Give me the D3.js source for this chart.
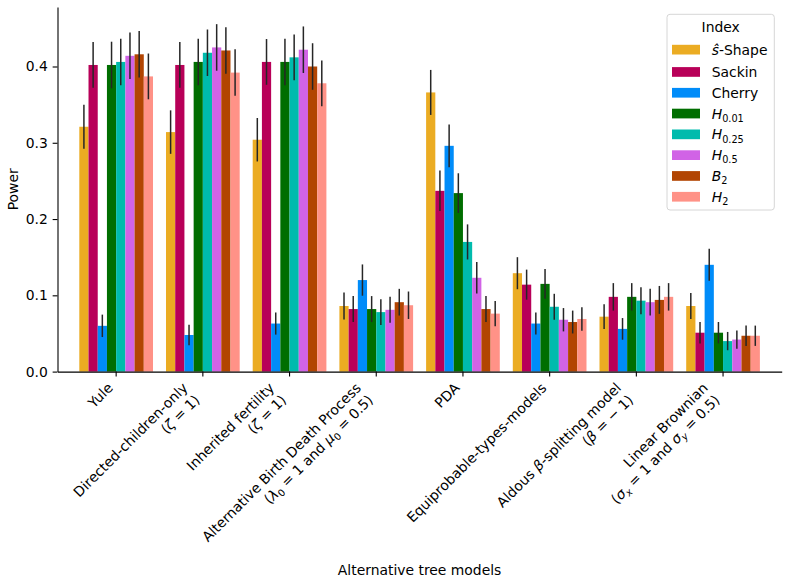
<!DOCTYPE html>
<html lang="en">
<head>
<meta charset="UTF-8">
<title>Power by alternative tree model</title>
<script src="https://d3js.org/d3.v7.min.js"></script>
<style>
    body { margin: 0; background: #fff; }
    svg { display: block; font-family: "DejaVu Sans", sans-serif; }
    .axis text { font-size: 13.9px; fill: #000; font-family: "DejaVu Sans", sans-serif; }
    .axis path, .axis line { stroke: #000; stroke-width: 1.1px; }
</style>
</head>
<body>
<svg id="chart" width="789" height="582"></svg>
<script>
// categories (tiny markup: *x* = italic, _{x} = subscript, \n = new line)
const categories = [
    "Yule",
    "Directed-children-only\n(*ζ* = 1)",
    "Inherited fertility\n(*ζ* = 1)",
    "Alternative Birth Death Process\n(*λ*_{0} = 1 and *μ*_{0} = 0.5)",
    "PDA",
    "Equiprobable-types-models",
    "Aldous *β*-splitting model\n(*β* = − 1)",
    "Linear Brownian\n(*σ*_{*x*} = 1 and *σ*_{*y*} = 0.5)"
];

const seriesNames = ["*ŝ*-Shape", "Sackin", "Cherry", "*H*_{0.01}", "*H*_{0.25}", "*H*_{0.5}", "*B*_{2}", "*H*_{2}"];

// power per category, one array per index
const shapeVals  = [0.321, 0.314, 0.304, 0.086, 0.366, 0.129, 0.072, 0.086];
const sackinVals = [0.402, 0.402, 0.406, 0.082, 0.237, 0.114, 0.098, 0.051];
const cherryVals = [0.060, 0.048, 0.063, 0.120, 0.296, 0.063, 0.056, 0.140];
const h001Vals   = [0.402, 0.406, 0.406, 0.082, 0.234, 0.115, 0.098, 0.051];
const h025Vals   = [0.406, 0.418, 0.412, 0.078, 0.170, 0.085, 0.093, 0.040];
const h05Vals    = [0.414, 0.425, 0.422, 0.081, 0.123, 0.068, 0.091, 0.042];
const b2Vals     = [0.416, 0.421, 0.400, 0.091, 0.082, 0.065, 0.094, 0.047];
const h2Vals     = [0.387, 0.392, 0.378, 0.087, 0.076, 0.069, 0.098, 0.047];

// half width of the error bars
const shapeErr  = [0.029, 0.0285, 0.0285, 0.0177, 0.0295, 0.021, 0.0162, 0.017];
const sackinErr = [0.030, 0.030, 0.030, 0.017, 0.0265, 0.0197, 0.018, 0.014];
const cherryErr = [0.0147, 0.0135, 0.0145, 0.0205, 0.028, 0.0145, 0.0142, 0.021];
const h001Err   = [0.0305, 0.0305, 0.0305, 0.017, 0.026, 0.0195, 0.018, 0.014];
const h025Err   = [0.0305, 0.0305, 0.030, 0.017, 0.023, 0.017, 0.0177, 0.012];
const h05Err    = [0.0305, 0.0305, 0.0305, 0.017, 0.0207, 0.0153, 0.0175, 0.012];
const b2Err     = [0.0305, 0.0305, 0.0305, 0.0175, 0.017, 0.015, 0.0183, 0.0133];
const h2Err     = [0.030, 0.0305, 0.030, 0.018, 0.0164, 0.0155, 0.018, 0.0133];

const yTicks = [0.0, 0.1, 0.2, 0.3, 0.4];

const palette = ["#EBAC23", "#B80058", "#008CF9", "#006E00", "#00BBAD", "#D163E6", "#B24502", "#FF9287"];

const allVals = [shapeVals, sackinVals, cherryVals, h001Vals, h025Vals, h05Vals, b2Vals, h2Vals];
const allErr = [shapeErr, sackinErr, cherryErr, h001Err, h025Err, h05Err, b2Err, h2Err];

// build rows for drawing
const rows = [];
categories.forEach((c, ci) => {
    seriesNames.forEach((s, si) => {
        rows.push({ cat: c, series: s, si: si, value: allVals[si][ci], err: allErr[si][ci] });
    });
});

const fs = 13.9;
const margin = { left: 57.5, right: 7.3, top: 7, bottom: 210.4 };
const width = 789, height = 582;
const svg = d3.select("#chart");

const x0 = d3.scaleBand()
    .domain(categories)
    .range([margin.left, width - margin.right])
    .paddingInner(0.15)
    .paddingOuter(0.2515);

const x1 = d3.scaleBand()
    .domain(seriesNames)
    .range([0, x0.bandwidth()]);

const y = d3.scaleLinear()
    .domain([0, 0.478])
    .range([height - margin.bottom, margin.top]);

// writes a marked-up line into a text/tspan node
function addRich(parent, str) {
    const parts = str.split(/(\*[^*]+\*|_\{[^}]+\})/).filter(p => p.length);
    let shifted = 0;
    parts.forEach(p => {
        if (p.startsWith("_{")) {
            const inner = p.slice(2, -1);
            const sub = parent.append("tspan")
                .attr("dy", 3.2)
                .style("font-size", (fs * 0.7) + "px");
            if (inner.startsWith("*")) sub.style("font-style", "italic").text(inner.slice(1, -1));
            else sub.text(inner);
            shifted = 3.2;
        } else {
            const t = parent.append("tspan");
            if (shifted) { t.attr("dy", -shifted); shifted = 0; }
            if (p.startsWith("*")) t.style("font-style", "italic").text(p.slice(1, -1));
            else t.text(p);
        }
    });
}

// bars
const groups = svg.append("g")
    .selectAll("g")
    .data(categories)
    .join("g")
    .attr("transform", d => `translate(${x0(d)},0)`);

groups.selectAll("rect")
    .data(c => rows.filter(r => r.cat === c))
    .join("rect")
    .attr("x", d => x1(d.series))
    .attr("y", d => y(d.value))
    .attr("width", x1.bandwidth())
    .attr("height", d => y(0) - y(d.value))
    .attr("fill", d => palette[d.si]);

groups.selectAll("line")
    .data(c => rows.filter(r => r.cat === c))
    .join("line")
    .attr("x1", d => x1(d.series) + x1.bandwidth() / 2)
    .attr("x2", d => x1(d.series) + x1.bandwidth() / 2)
    .attr("y1", d => y(d.value - d.err))
    .attr("y2", d => y(d.value + d.err))
    .attr("stroke", "#262626")
    .attr("stroke-width", 1.5);

// y axis
svg.append("g")
    .attr("class", "axis")
    .attr("transform", `translate(${margin.left},0)`)
    .call(d3.axisLeft(y).tickValues(yTicks).tickFormat(d3.format(".1f"))
        .tickSize(4.86).tickSizeOuter(0).tickPadding(4.86));

// x axis
const xAxis = svg.append("g")
    .attr("class", "axis")
    .attr("transform", `translate(0,${y(0)})`)
    .call(d3.axisBottom(x0).tickFormat(() => "").tickSize(4.86).tickSizeOuter(0));

// rotated tick labels, anchored like matplotlib (rotation 45, ha right)
const lineH = 17;
const asc = 0.76 * fs, desc = 0.24 * fs;
const k = Math.SQRT1_2;
categories.forEach(c => {
    const lines = c.split("\n");
    const cx = x0(c) + x0.bandwidth() / 2;
    const px = cx - k * ((lines.length - 1) * lineH + desc);
    const py = y(0) + 9.72 + k * asc;
    const t = svg.append("text")
        .attr("transform", `translate(${px},${py}) rotate(-45)`)
        .attr("text-anchor", "end")
        .style("font-size", fs + "px");
    lines.forEach((ln, i) => {
        const tl = t.append("tspan").attr("x", 0).attr("y", i * lineH);
        addRich(tl, ln);
    });
});

// axis titles
svg.append("text")
    .attr("x", (margin.left + width - margin.right) / 2)
    .attr("y", 574.5)
    .attr("text-anchor", "middle")
    .style("font-size", fs + "px")
    .text("Alternative tree models");

svg.append("text")
    .attr("transform", `translate(17.5,${(margin.top + y(0)) / 2}) rotate(-90)`)
    .attr("text-anchor", "middle")
    .style("font-size", fs + "px")
    .text("Power");

// legend
const legend = svg.append("g");
legend.append("rect")
    .attr("x", 667).attr("y", 14.3)
    .attr("width", 107.3).attr("height", 195.7)
    .attr("rx", 3)
    .attr("fill", "#fff").attr("fill-opacity", 0.8)
    .attr("stroke", "#d6d6d6").attr("stroke-width", 1);

legend.append("text")
    .attr("x", 720.7).attr("y", 31.7)
    .attr("text-anchor", "middle")
    .style("font-size", fs + "px")
    .text("Index");

seriesNames.forEach((s, i) => {
    const cy = i === 0 ? 49.7 : 72 + (i - 1) * 20.8;
    legend.append("rect")
        .attr("x", 672).attr("y", cy - 4.9)
        .attr("width", 28).attr("height", 9.7)
        .attr("fill", palette[i]);
    const t = legend.append("text")
        .attr("x", 711.7).attr("y", cy + 5)
        .style("font-size", fs + "px");
    addRich(t, s);
});
</script>
</body>
</html>
